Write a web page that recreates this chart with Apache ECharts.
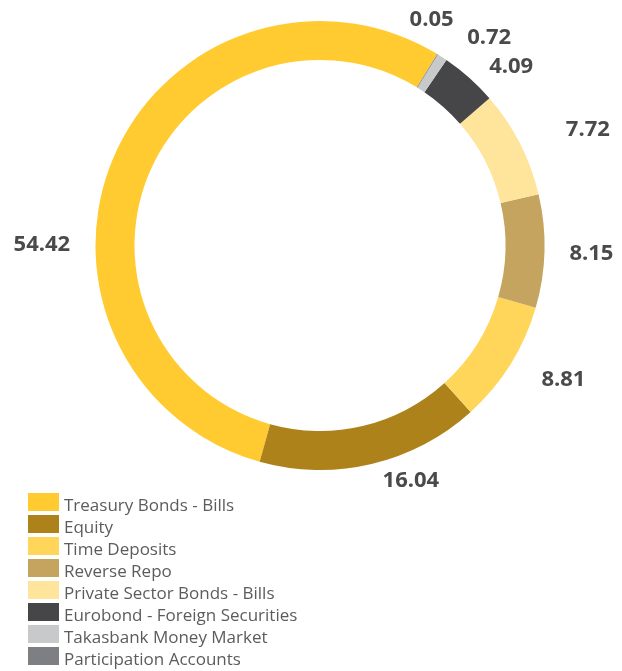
<!DOCTYPE html>
<html>
<head>
<meta charset="utf-8">
<script src="https://cdn.jsdelivr.net/npm/echarts@6/dist/echarts.min.js"></script>
<style>
  html, body { margin: 0; padding: 0; background: #ffffff; }
  #chart { width: 622px; height: 671px; }
</style>
</head>
<body>
<div id="chart"></div>
<script>
// Portfolio distribution (%)
const categories = [
  'Treasury Bonds - Bills',
  'Equity',
  'Time Deposits',
  'Reverse Repo',
  'Private Sector Bonds - Bills',
  'Eurobond - Foreign Securities',
  'Takasbank Money Market',
  'Participation Accounts'
];
const shares = [54.42, 16.04, 8.81, 8.15, 7.72, 4.09, 0.72, 0.05];
const sliceColors = ['#FFCB30', '#AD821B', '#FFD65A', '#C4A45E', '#FFE49B', '#464648', '#C8C9CB', '#7E7F83'];

// per-slice label nudges (px) from the default outside anchor
const labelNudge = [
  [-39, 89], [6, 17], [26, 15], [20, 3], [41, -13], [15, -11], [20, -19], [-33, -35]
];

const chart = echarts.init(document.getElementById('chart'), null, { renderer: 'canvas' });

chart.setOption({
  animation: false,
  color: sliceColors,
  legend: {
    orient: 'vertical',
    left: 28,
    top: 489,
    padding: 0,
    itemWidth: 31,
    itemHeight: 18,
    itemGap: -4,
    itemStyle: { borderWidth: 0 },
    icon: 'rect',
    formatter: (name) => '{t|' + name + '}',
    textStyle: {
      fontFamily: 'Open Sans', fontSize: 17, color: '#5c5c5c',
      rich: { t: { fontFamily: 'Open Sans', fontSize: 17, color: '#5c5c5c', lineHeight: 18, padding: [9, 0, 0, 0] } }
    },
    data: categories
  },
  series: [{
    type: 'pie',
    center: [320, 245.5],
    radius: [185.5, 224.5],
    startAngle: 58.5,
    clockwise: false,
    avoidLabelOverlap: false,
    emphasis: { disabled: true },
    label: {
      show: true,
      position: 'outside',
      fontFamily: 'Open Sans',
      fontWeight: 'bold',
      fontSize: 22,
      color: '#4a4a4c',
      formatter: (p) => p.value.toFixed(2)
    },
    labelLine: { show: false, length: 0, length2: 0 },
    labelLayout: (p) => ({ dx: labelNudge[p.dataIndex][0], dy: labelNudge[p.dataIndex][1] }),
    data: categories.map((name, i) => ({ name, value: shares[i] }))
  }]
});
</script>
</body>
</html>
